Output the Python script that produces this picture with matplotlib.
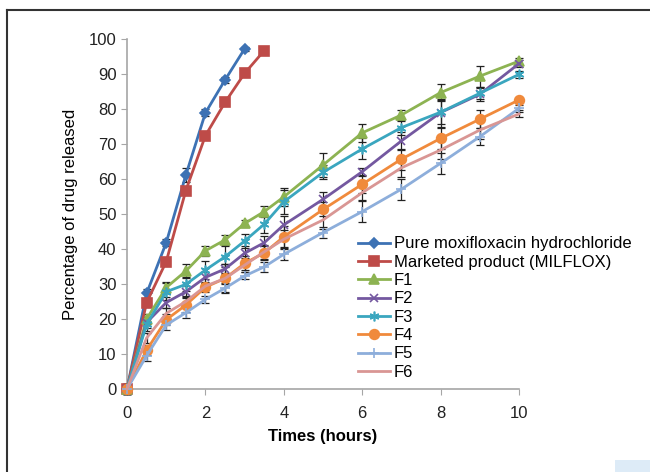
import numpy as np
import matplotlib.pyplot as plt
from matplotlib.patches import Rectangle
from matplotlib.lines import Line2D

plt.rcParams['font.family'] = ['Liberation Sans', 'DejaVu Sans']

# release time points (hours)
t_pure = [0, 0.5, 1, 1.5, 2, 2.5, 3]
t_mkt = [0, 0.5, 1, 1.5, 2, 2.5, 3, 3.5]
t_f = [0, 0.5, 1, 1.5, 2, 2.5, 3, 3.5, 4, 5, 6, 7, 8, 9, 10]

# cumulative % released
pure = [0, 27.3, 41.8, 61.1, 78.9, 88.3, 97.2]
marketed = [0, 24.7, 36.4, 56.7, 72.4, 81.9, 90.2, 96.7]
f1 = [0, 20.0, 29.0, 33.7, 39.5, 42.6, 47.3, 50.7, 54.9, 64.0, 73.2, 78.3, 84.7, 89.4, 93.7]
f2 = [0, 19.0, 24.7, 27.8, 31.9, 34.3, 38.8, 41.8, 46.9, 54.2, 62.1, 70.9, 79.0, 84.2, 93.0]
f3 = [0, 18.5, 27.8, 29.9, 34.0, 37.8, 42.3, 47.1, 53.5, 61.9, 68.6, 74.7, 79.1, 84.5, 89.9]
f4 = [0, 11.1, 19.8, 24.0, 29.1, 31.6, 35.9, 38.9, 43.5, 51.3, 58.5, 65.7, 71.6, 77.1, 82.6]
f5 = [0, 9.5, 18.3, 21.8, 25.6, 28.8, 32.3, 34.9, 38.5, 44.7, 50.7, 57.1, 64.5, 72.1, 80.2]
f6 = [0, 14.6, 21.6, 25.0, 29.4, 31.6, 35.4, 39.2, 42.8, 48.3, 56.1, 63.2, 68.3, 74.0, 78.6]

# standard deviations (error bars)
err_pure = [1.5, 1.2, 1.0, 2.0, 1.0, 0.8, 0.5]
err_mkt = [1.0, 1.0, 1.0, 1.0, 0.8, 0.8, 0.8, 0.8]
err_f1 = [1.5, 1.5, 1.5, 2.0, 1.5, 1.5, 1.0, 1.5, 2.5, 3.5, 2.5, 1.5, 2.5, 3.0, 1.0]
err_f2 = [1.5, 1.5, 1.5, 1.5, 1.5, 1.5, 2.0, 2.0, 2.5, 2.0, 1.0, 2.5, 4.0, 2.0, 1.0]
err_f3 = [1.5, 2.0, 2.5, 2.0, 2.5, 3.0, 2.0, 2.5, 3.5, 2.0, 3.0, 2.0, 3.5, 1.5, 1.0]
err_f4 = [1.5, 1.5, 1.5, 2.0, 1.5, 1.5, 2.0, 2.0, 3.0, 2.0, 2.5, 3.0, 3.0, 2.5, 0.5]
err_f5 = [1.5, 1.5, 1.5, 1.5, 1.0, 1.5, 1.0, 1.5, 1.5, 1.5, 3.0, 3.0, 3.0, 2.5, 1.0]
err_f6 = [1.5, 1.5, 1.5, 1.5, 1.0, 4.0, 2.0, 2.0, 2.5, 2.5, 2.0, 2.5, 2.5, 2.5, 1.0]

labels = ['Pure moxifloxacin hydrochloride', 'Marketed product (MILFLOX)',
          'F1', 'F2', 'F3', 'F4', 'F5', 'F6']

fig = plt.figure(figsize=(6.5, 4.72), dpi=100)
ax = fig.add_axes([0.1954, 0.1758, 0.6031, 0.7415])

series = [
    (t_pure, pure, err_pure, '#3D72B4', 'D', 5),
    (t_mkt, marketed, err_mkt, '#BE4B48', 's', 7),
    (t_f, f1, err_f1, '#8DB352', '^', 7),
    (t_f, f2, err_f2, '#7458A0', 'x', 6),
    (t_f, f3, err_f3, '#3AA6BF', (6, 2, 0), 7),
    (t_f, f4, err_f4, '#F08A3C', 'o', 7),
    (t_f, f5, err_f5, '#8DAEDB', '+', 7),
    (t_f, f6, err_f6, '#D99694', None, 0),
]

for (x, y, e, c, m, ms), lab in zip(series, labels):
    ax.errorbar(x, y, yerr=e, fmt='none', ecolor='#222222', elinewidth=0.9,
                capsize=3, capthick=0.9, zorder=2, clip_on=False)
    ax.plot(x, y, color=c, lw=2, marker=m, markersize=ms, markeredgecolor=c,
            markeredgewidth=1.2, label=lab, zorder=3, clip_on=False)

ax.set_xlim(0, 10)
ax.set_ylim(0, 100)
ax.set_xticks(range(0, 11, 2))
ax.set_yticks(range(0, 101, 10))
for s in ['top', 'right']:
    ax.spines[s].set_visible(False)
for s in ['left', 'bottom']:
    ax.spines[s].set_color('#A6A6A6')
    ax.spines[s].set_linewidth(1.2)
ax.tick_params(colors='#A6A6A6', labelcolor='#222222', labelsize=12,
               direction='out', length=4)
ax.tick_params(axis='x', pad=8)

ax.set_xlabel('Times (hours)', fontsize=12, fontweight='bold', labelpad=6)
ax.set_ylabel('Percentage of drug released', fontsize=12, labelpad=8)

ax.legend(loc='upper left', bbox_to_anchor=(0.589, 0.436), frameon=False,
          fontsize=12, handlelength=1.95, labelspacing=0.2, handletextpad=0.2,
          borderpad=0, borderaxespad=0)

# outer frame of the figure panel
fig.add_artist(Line2D([7 / 650, 7 / 650], [0, 1 - 10 / 472], color='#333333', lw=1.5))
fig.add_artist(Line2D([7 / 650, 1], [1 - 10 / 472, 1 - 10 / 472], color='#333333', lw=1.5))
fig.add_artist(Rectangle((615 / 650, 0), 35 / 650, 12 / 472, color='#DDEBF7', lw=0))

fig.savefig('out.png', dpi=100)
